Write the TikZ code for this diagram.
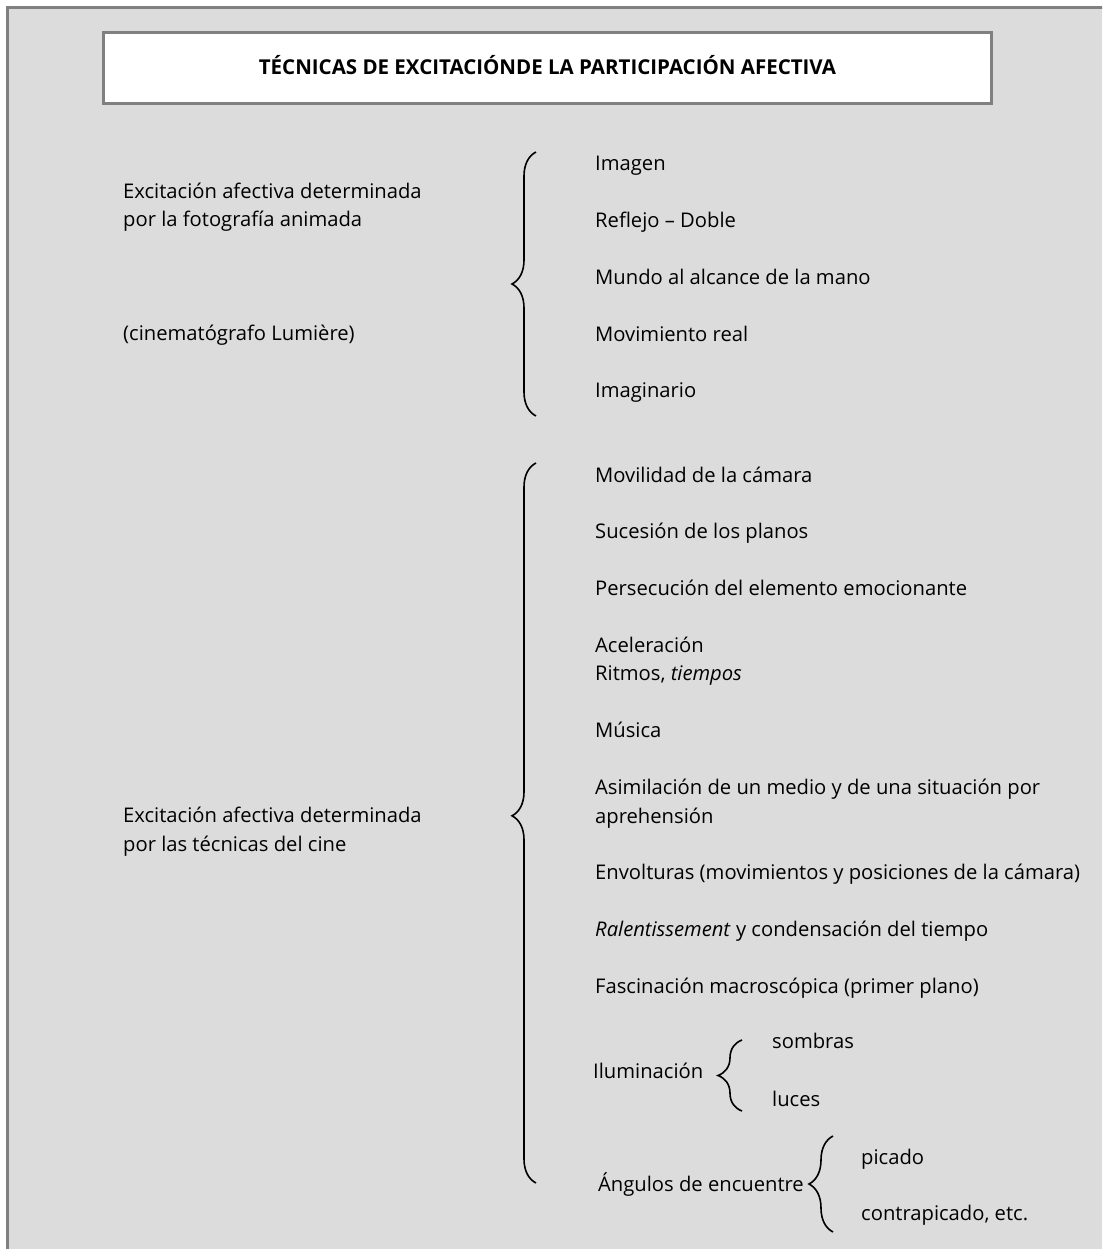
\documentclass[tikz,border=0pt]{standalone}
\usepackage{fontspec}
\setmainfont{Open Sans}
\usepackage{tikz}
\usetikzlibrary{positioning,decorations.pathreplacing}
\definecolor{bgc}{HTML}{DCDCDC}
\definecolor{frm}{HTML}{808080}

\begin{document}
\begin{tikzpicture}[
    x=1pt, y=-1pt,
    node distance=56.7pt,
    txt/.style={anchor=base west, align=left, inner sep=0pt, font=\fontsize{20.2}{28.8}\selectfont},
    ttl/.style={draw=frm, line width=3pt, fill=white, minimum width=888pt, minimum height=71pt,
        text height=14pt, text depth=0pt, font=\fontsize{20.5}{24}\selectfont\bfseries},
    brc/.style={decorate, decoration={brace, amplitude=24pt}, line width=1.6pt}
]
\path[use as bounding box, clip] (0,0) rectangle (1102,1249);
\fill[white] (0,0) rectangle (1102,1249);
\fill[bgc] (7.5,7.5) rectangle (1130,1280);
\draw[frm, line width=3pt] (7.5,1280) -- (7.5,7.5) -- (1130,7.5);

% title
\node[ttl] (ttl) at (547.5,68) {TÉCNICAS DE EXCITACIÓNDE LA PARTICIPACIÓN AFECTIVA};

% fotografia animada
\node[txt] (f0) at (123,227) {Excitación afectiva determinada\\por la fotografía animada};
\node[txt] (f0b) at (123,340) {(cinematógrafo Lumière)};
\node[txt] (f1) at (595,171) {Imagen};
\node[txt, below=of f1.base west, anchor=base west] (f2) {Reflejo – Doble};
\node[txt, below=of f2.base west, anchor=base west] (f3) {Mundo al alcance de la mano};
\node[txt, below=of f3.base west, anchor=base west] (f4) {Movimiento real};
\node[txt, below=of f4.base west, anchor=base west] (f5) {Imaginario};
\coordinate (b1t) at (536,152);
\coordinate (b1b) at (536,416);
\draw[brc] (b1b) -- (b1t);

% tecnicas del cine
\node[txt] (c0) at (123,851) {Excitación afectiva determinada\\por las técnicas del cine};
\node[txt] (c1) at (595,482) {Movilidad de la cámara};
\node[txt, below=of c1.base west, anchor=base west] (c2) {Sucesión de los planos};
\node[txt, below=of c2.base west, anchor=base west] (c3) {Persecución del elemento emocionante};
\node[txt, below=85.5pt of c3.base west, anchor=base west] (c4) {Aceleración\\Ritmos, \textit{tiempos}};
\node[txt, below=of c4.base west, anchor=base west] (c5) {Música};
\node[txt, below=85.5pt of c5.base west, anchor=base west] (c6) {Asimilación de un medio y de una situación por\\aprehensión};
\node[txt, below=of c6.base west, anchor=base west] (c7) {Envolturas (movimientos y posiciones de la cámara)};
\node[txt, below=of c7.base west, anchor=base west] (c8) {\textit{Ralentissement} y condensación del tiempo};
\node[txt, below=of c8.base west, anchor=base west] (c9) {Fascinación macroscópica (primer plano)};
\coordinate (b2t) at (536,463);
\coordinate (b2b) at (536,1183);
\draw[brc, decoration={aspect=0.51}] (b2b) -- (b2t);

% iluminacion
\node[txt] (il) at (593,1078) {Iluminación};
\node[txt] (il1) at (772,1048) {sombras};
\node[txt] (il2) at (772,1106) {luces};
\coordinate (b3t) at (742,1040);
\coordinate (b3b) at (742,1111);
\draw[brc] (b3b) -- (b3t);

% angulos
\node[txt] (an) at (598,1191) {Ángulos de encuentre};
\node[txt] (an1) at (861,1164) {picado};
\node[txt] (an2) at (861,1220) {contrapicado, etc.};
\coordinate (b4t) at (833,1136);
\coordinate (b4b) at (833,1232);
\draw[brc] (b4b) -- (b4t);
\end{tikzpicture}
\end{document}
